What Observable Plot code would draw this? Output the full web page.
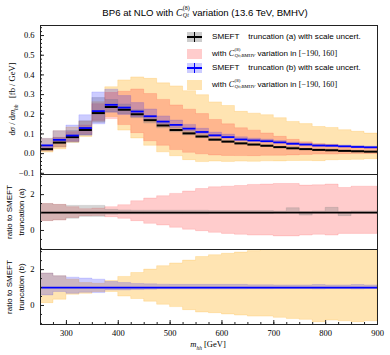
<!DOCTYPE html>
<html><head><meta charset="utf-8">
<script src="https://cdn.jsdelivr.net/npm/d3@7"></script>
<script src="https://cdn.jsdelivr.net/npm/@observablehq/plot@0.6"></script>
<style>
body{margin:0;background:#fff;}
#wrap{position:relative;width:390px;height:355px;overflow:hidden;font-family:"Liberation Sans",sans-serif;color:#000;}
.abs{position:absolute;}
.mi{font-family:"Liberation Serif",serif;font-style:italic;}
.rm{font-family:"Liberation Serif",serif;}
.ss{display:inline-block;vertical-align:-0.3em;font-size:0.62em;line-height:1.25;text-align:left;margin-left:0.5px;font-family:"Liberation Serif",serif;}
.ss span{display:block;}
.row{position:absolute;height:12px;line-height:12px;font-size:8.1px;white-space:pre;}
.ylab{position:absolute;transform:rotate(-90deg);transform-origin:center center;text-align:center;}
</style></head><body><div id="wrap"></div>
<script>
// ---- data ----
const binEdges = [250,275,300,325,350,375,400,425,450,475,500,525,550,575,600,625,650,675,700,725,750,775,800,825,850,875,900];
// central values dσ/dm_hh [fb/GeV]
const truncA = [0.023,0.056,0.084,0.120,0.206,0.237,0.223,0.200,0.170,0.143,0.120,0.103,0.087,0.071,0.061,0.052,0.046,0.040,0.033,0.027,0.023,0.019,0.017,0.014,0.012,0.010];
const truncB = [0.042,0.070,0.092,0.130,0.216,0.248,0.234,0.214,0.190,0.163,0.146,0.127,0.110,0.093,0.084,0.072,0.067,0.063,0.057,0.050,0.046,0.041,0.040,0.037,0.034,0.032];
// ratio bands to truncation (a)
const scaleA_hi = [1.47,1.42,1.37,1.37,1.37,1.15,1.12,1.10,1.10,1.10,1.10,1.10,1.10,1.08,1.08,1.08,1.08,1.08,1.06,1.24,1.03,1.06,1.26,1.02,1.06,1.06];
const scaleA_lo = [0.53,0.57,0.66,0.76,0.76,0.88,0.90,0.90,0.90,0.90,0.90,0.90,0.90,0.92,0.92,0.92,0.92,0.92,0.94,0.98,0.83,0.94,0.99,0.80,0.94,0.94];
const varA_hi = [1.48,1.43,1.30,1.19,1.22,1.30,1.41,1.63,1.78,1.91,2.04,2.17,2.31,2.41,2.44,2.48,2.54,2.56,2.59,2.59,2.50,2.52,2.56,2.37,2.44,2.44];
const varA_lo = [0.52,0.56,0.70,0.80,0.81,0.74,0.65,0.52,0.37,0.28,0.15,0.04,-0.04,-0.13,-0.19,-0.24,-0.28,-0.28,-0.33,-0.33,-0.28,-0.24,-0.28,-0.19,-0.19,-0.19];
// ratio bands to truncation (b)
const scaleB_hi = [1.78,1.63,1.55,1.50,1.44,1.31,1.25,1.20,1.18,1.16,1.15,1.15,1.15,1.15,1.15,1.15,1.13,1.13,1.12,1.12,1.12,1.14,1.12,1.12,1.14,1.12];
const scaleB_lo = [0.56,0.75,0.65,0.71,0.69,0.84,0.84,0.86,0.88,0.90,0.90,0.90,0.90,0.90,0.90,0.90,0.91,0.91,0.92,0.92,0.92,0.90,0.92,0.92,0.90,0.92];
const varB_hi = [1.78,1.63,1.44,1.25,1.21,1.36,1.59,1.81,2.00,2.19,2.34,2.50,2.70,2.80,2.88,2.95,3.03,3.10,3.16,3.22,3.26,3.30,3.26,3.22,3.26,3.18];
const varB_lo = [0.13,0.32,0.60,0.65,0.75,0.75,0.50,0.36,0.21,0.04,-0.09,-0.26,-0.39,-0.43,-0.50,-0.56,-0.62,-0.62,-0.69,-0.75,-0.80,-0.93,-0.84,-0.88,-0.93,-0.88];
// ticks
const xTickLabels = [300,400,500,600,700,800,900];
const mainYTicks = [-0.1,0,0.1,0.2,0.3,0.4,0.5,0.6];
const ratioYTicks = [0,2];

// ---- helpers ----
const bins = truncA.map((a,i)=>({x1:binEdges[i], x2:binEdges[i+1], a, b:truncB[i]}));
function stepBand(lo, hi){
  const pts=[];
  lo.forEach((_,i)=>{pts.push({x:binEdges[i],lo:lo[i],hi:hi[i]});pts.push({x:binEdges[i+1],lo:lo[i],hi:hi[i]});});
  return pts;
}
const scaled = (r, c) => r.map((v,i)=>v*c[i]);
function band(lo, hi, color, op){
  return Plot.areaY(stepBand(lo,hi), {x:"x", y1:"lo", y2:"hi", curve:"linear", fill:color, fillOpacity:op, stroke:color, strokeOpacity:op, strokeWidth:0.6, clip:true});
}
const xMinor = d3.range(10, 37).map(i=>i*25);
const W=390, ML=40, MR=13;
const baseStyle = {background:"transparent", overflow:"visible", fontFamily:"Liberation Serif", fontSize:"8.5px", color:"#000"};
function yAxes(major, minor, fmt){
  return [
    Plot.axisY(minor, {anchor:"left", tickSize:2, dx:2, tickFormat:()=>"", label:null, stroke:"#222"}),
    Plot.axisY(major, {anchor:"left", tickSize:4, dx:4, tickFormat:()=>"", label:null, stroke:"#222"}),
    Plot.axisY(major, {anchor:"left", tickSize:0, tickPadding:6, tickFormat:fmt, label:null})
  ];
}

// ---- main panel ----
const main = Plot.plot({
  width:W, height:154, marginLeft:ML, marginRight:MR, marginTop:5, marginBottom:0,
  x:{domain:[250,900], axis:null},
  y:{domain:[-0.106,0.651]},
  style:baseStyle,
  marks:[
    band(scaled(varB_lo,truncB), scaled(varB_hi,truncB), "orange", 0.3),
    band(scaled(varA_lo,truncA), scaled(varA_hi,truncA), "red", 0.2),
    band(scaled(scaleA_lo,truncA), scaled(scaleA_hi,truncA), "gray", 0.33),
    band(scaled(scaleB_lo,truncB), scaled(scaleB_hi,truncB), "blue", 0.2),
    Plot.ruleY(bins, {x1:"x1", x2:"x2", y:"a", stroke:"black", strokeWidth:2}),
    Plot.ruleY(bins, {x1:"x1", x2:"x2", y:"b", stroke:"blue", strokeWidth:1.8}),
    ...yAxes(mainYTicks, d3.range(-5,33).map(i=>i*0.02), d3.format(".1f")),
    Plot.frame({stroke:"#222", strokeWidth:1})
  ]
});

// ---- ratio (a) ----
const ratioA = Plot.plot({
  width:W, height:75, marginLeft:ML, marginRight:MR, marginTop:0, marginBottom:0,
  x:{domain:[250,900], axis:null},
  y:{domain:[-1.06,3.12]},
  style:baseStyle,
  marks:[
    band(varA_lo, varA_hi, "red", 0.2),
    band(scaleA_lo, scaleA_hi, "gray", 0.33),
    Plot.ruleY([1], {stroke:"black", strokeWidth:1.8}),
    ...yAxes(ratioYTicks, d3.range(-2,7).map(i=>i*0.5), d3.format("d")),
    Plot.frame({stroke:"#222", strokeWidth:1})
  ]
});

// ---- ratio (b) ----
const ratioB = Plot.plot({
  width:W, height:106, marginLeft:ML, marginRight:MR, marginTop:0, marginBottom:31,
  x:{domain:[250,900]},
  y:{domain:[-1.06,3.12]},
  style:baseStyle,
  marks:[
    band(varB_lo, varB_hi, "orange", 0.3),
    band(scaleB_lo, scaleB_hi, "blue", 0.2),
    Plot.ruleY([1], {stroke:"blue", strokeWidth:1.8}),
    ...yAxes(ratioYTicks, d3.range(-2,7).map(i=>i*0.5), d3.format("d")),
    Plot.axisX(xMinor, {anchor:"bottom", tickSize:2, dy:-2, tickFormat:()=>"", label:null, stroke:"#222"}),
    Plot.axisX(xTickLabels, {anchor:"bottom", tickSize:4, dy:-4, tickFormat:()=>"", label:null, stroke:"#222"}),
    Plot.axisX(xTickLabels, {anchor:"bottom", tickSize:0, tickPadding:5, tickFormat:d=>String(d), label:null}),
    Plot.frame({stroke:"#222", strokeWidth:1})
  ]
});

const wrap = document.getElementById("wrap");
function place(el, top){ const d=document.createElement("div"); d.className="abs"; d.style.left="0px"; d.style.top=top+"px"; d.appendChild(el); wrap.appendChild(d); }
place(main, 20); place(ratioA, 174); place(ratioB, 249);

const C8 = (sub)=>`<span class="mi">C</span><span class="ss"><span>(8)</span><span class="mi">${sub}</span></span>`;
const html = `
<div class="abs" style="left:0;top:5px;width:410px;text-align:center;font-size:9.6px;line-height:14px;">BP6 at NLO with ${C8("Qt")} variation (13.6 TeV, BMHV)</div>

<div class="abs" style="left:187px;top:32px;width:15px;height:10px;background:rgba(128,128,128,0.4)"></div>
<div class="abs" style="left:187px;top:36px;width:15px;height:2px;background:#000"></div>
<div class="abs" style="left:194px;top:32px;width:1.3px;height:10px;background:#000"></div>
<div class="row" style="left:212px;top:31px">SMEFT    truncation (a) with scale uncert.</div>

<div class="abs" style="left:187px;top:49px;width:15px;height:10px;background:rgba(255,0,0,0.2)"></div>
<div class="row" style="left:212px;top:47px">with ${C8("Qt;BMHV")} variation in <span class="rm">[−190, 160]</span></div>

<div class="abs" style="left:187px;top:63px;width:15px;height:10px;background:rgba(0,0,255,0.2)"></div>
<div class="abs" style="left:187px;top:67px;width:15px;height:2px;background:blue"></div>
<div class="abs" style="left:194px;top:63px;width:1.3px;height:10px;background:blue"></div>
<div class="row" style="left:212px;top:62px">SMEFT    truncation (b) with scale uncert.</div>

<div class="abs" style="left:187px;top:80px;width:15px;height:10px;background:rgba(255,165,0,0.3)"></div>
<div class="row" style="left:212px;top:78px">with ${C8("Qt;BMHV")} variation in <span class="rm">[−190, 160]</span></div>

<div class="ylab rm" style="left:-63px;top:93px;width:150px;height:12px;line-height:12px;font-size:8.5px;">d<span class="mi">σ</span> / d<span class="mi">m</span><sub class="mi" style="font-size:0.65em">hh</sub>&nbsp;&nbsp;&nbsp;[fb / GeV]</div>
<div class="ylab" style="left:-24px;top:199.5px;width:80px;height:24px;line-height:12px;font-size:8px;">ratio to SMEFT<br>truncation (a)</div>
<div class="ylab" style="left:-24px;top:274.5px;width:80px;height:24px;line-height:12px;font-size:8px;">ratio to SMEFT<br>truncation (b)</div>
<div class="abs rm" style="left:158px;top:338px;width:100px;text-align:center;font-size:8.5px;line-height:12px;"><span class="mi">m</span><sub class="mi" style="font-size:0.65em">hh</sub> [GeV]</div>
`;
wrap.insertAdjacentHTML("beforeend", html);
</script></body></html>
